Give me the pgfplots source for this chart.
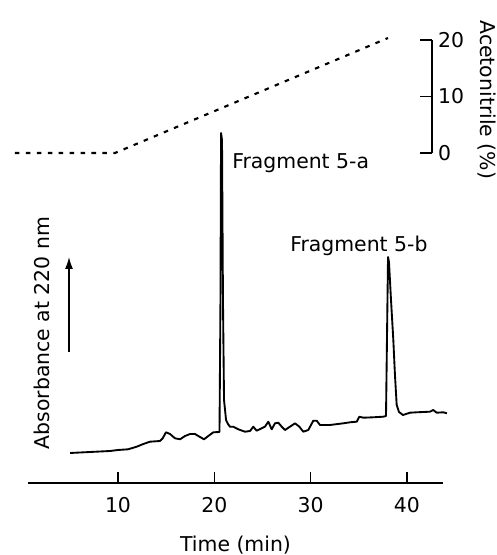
\documentclass[border=0pt]{standalone}
\usepackage{fontspec}
\setmainfont{DejaVu Sans}
\usepackage{pgfplots}
\pgfplotsset{compat=1.18}
\usetikzlibrary{arrows.meta}
\newcommand{\figfont}{\fontsize{15.3}{18}\selectfont}
\pgfplotsset{
  hplcaxis/.style={
    scale only axis,
    axis line style={-, line width=1.1pt, black},
    every outer x axis line/.append style={-},
    every outer y axis line/.append style={-},
    tick style={line width=1.1pt, black},
    every tick label/.style={font=\figfont},
    every axis label/.style={font=\figfont},
    /pgf/number format/assume math mode=true,
    clip=false,
  },
}
\begin{document}
\begin{tikzpicture}
\useasboundingbox (0,0) rectangle (372pt,416.25pt);
% chromatogram
\begin{axis}[
  hplcaxis,
  at={(21pt,54pt)}, anchor=south west,
  width=311.25pt, height=270pt,
  xmin=0.654, xmax=43.75, ymin=0, ymax=36,
  axis x line=bottom, axis y line=none,
  x axis line style={-},
  xtick align=center,
  xtick style={yshift=4.1pt},
  xtick={10,20,30,40},
  major tick length=8.2pt,
  xticklabel style={yshift=-3pt},
  xlabel={Time (min)},
  xlabel style={at={(axis description cs:0.5,0)}, anchor=center, yshift=-46.5pt},
]
\addplot[black, line width=1.4pt, line join=round] coordinates {
(5.02,3.00) (9.17,3.20) (10.00,3.30) (11.04,3.37) (11.94,3.63)
(12.63,3.90) (13.32,4.13) (14.36,4.20) (14.64,4.47) (14.98,5.07)
(15.40,4.90) (15.92,4.47) (16.44,4.37) (16.96,4.70) (17.48,4.90)
(17.99,4.90) (18.34,4.70) (18.93,4.37) (19.38,4.70) (19.90,5.07)
(20.54,5.10) (20.64,18.3) (20.70,35.0) (20.80,34.3) (20.90,18.3)
(21.01,8.3) (21.22,6.3) (21.42,5.9) (21.63,5.63) (21.97,5.63)
(22.49,5.37) (23.19,5.13) (23.71,5.20) (24.05,5.63) (24.40,5.23)
(24.92,5.47) (25.26,5.63) (25.61,6.13) (25.96,5.37) (26.30,5.97)
(26.65,6.03) (27.00,5.63) (27.34,5.30) (27.86,5.63) (28.38,5.97)
(28.83,5.63) (29.24,5.13) (29.76,5.30) (30.28,6.23) (30.63,6.23)
(30.98,5.80) (32.01,5.80) (33.40,5.97) (34.09,6.07) (34.79,6.13)
(35.06,6.63) (35.47,6.53) (36.51,6.57) (37.55,6.63) (37.83,6.70)
(37.93,14.3) (38.04,22.6) (38.14,22.1) (38.35,18.3) (38.59,14.3)
(38.76,10.8) (38.94,7.8) (39.18,7.1) (39.59,6.8) (39.91,6.9)
(40.32,7.03) (41.02,7.07) (42.40,7.13) (42.74,7.30) (43.09,7.03)
(43.78,7.07) (44.16,6.97)
};
\node[font=\figfont, anchor=west, inner sep=0pt] at (axis cs:21.84,32.0) {Fragment 5-a};
\node[font=\figfont, anchor=west, inner sep=0pt] at (axis cs:27.86,23.7) {Fragment 5-b};
\end{axis}
% gradient
\begin{axis}[
  hplcaxis,
  at={(11.25pt,301.5pt)}, anchor=south west,
  width=312.75pt, height=84.75pt,
  xmin=-0.696, xmax=42.61, ymin=0, ymax=20,
  axis x line=none, axis y line=right,
  y axis line style={-},
  ytick align=center,
  ytick style={xshift=-4.5pt},
  ytick={0,10,20},
  major tick length=9pt,
  yticklabel style={xshift=-3.5pt},
  ylabel={Acetonitrile (\%)},
  ylabel style={at={(axis description cs:1.131,0.47)}, anchor=center,
    rotate=180},
]
\addplot[black, line width=1.6pt, dash pattern=on 3.4pt off 4.8pt]
  coordinates {(-0.70,0) (9.69,0) (38.04,20.35)};
\end{axis}
% absorbance label and arrow
\node[font=\figfont, rotate=90] at (31.5pt,166.5pt) {Absorbance at 220 nm};
\draw[-{Latex[length=9pt,width=6pt]}, line width=1.1pt] (51.75pt,152.25pt) -- (51.75pt,223.5pt);
\end{tikzpicture}
\end{document}
